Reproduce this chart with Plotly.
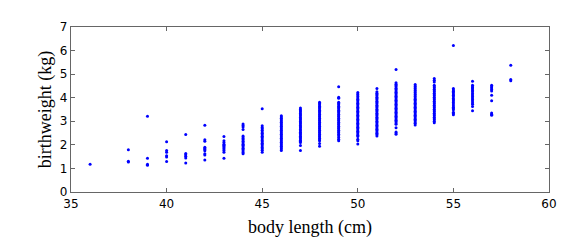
import plotly.graph_objects as go

# body length (cm) columns and birthweights (kg)
lengths = [36, 38, 39, 40, 41, 42, 43, 44, 45, 46, 47, 48, 49, 50, 51, 52, 53, 54, 55, 56, 57, 58]

w36 = [1.18]
w38 = [1.79, 1.30, 1.27]
w39 = [3.21, 1.43, 1.18, 1.13]
w40 = [2.13, 1.76, 1.69, 1.54, 1.48, 1.29]
w41 = [2.44, 1.63, 1.58, 1.52, 1.44, 1.23]
w42 = [2.83, 2.22, 2.15, 1.90, 1.85, 1.80, 1.75, 1.62, 1.57, 1.36]
w43 = [2.35, 2.17, 2.10, 2.03, 1.98, 1.93, 1.88, 1.82, 1.76, 1.69, 1.43]
w44 = [2.89, 2.82, 2.76, 2.65, 2.38, 2.33, 2.27, 2.22, 2.15, 2.09, 2.03, 1.98, 1.92,
       1.86, 1.80, 1.74, 1.68, 1.62]
w45 = [3.53, 2.81, 2.74, 2.68, 2.62, 2.55, 2.49, 2.43, 2.37, 2.31, 2.25, 2.19, 2.13,
       2.07, 2.01, 1.95, 1.89, 1.83, 1.77, 1.69]
w46 = [3.24, 3.18, 3.13, 3.07, 3.01, 2.96, 2.90, 2.84, 2.79, 2.73, 2.67, 2.62, 2.56,
       2.50, 2.45, 2.39, 2.33, 2.28, 2.22, 2.16, 2.11, 2.05, 1.99, 1.94, 1.88, 1.82, 1.76]
w47 = [3.56, 3.50, 3.45, 3.39, 3.33, 3.28, 3.22, 3.16, 3.11, 3.05, 2.99, 2.94, 2.88,
       2.82, 2.77, 2.71, 2.65, 2.60, 2.54, 2.48, 2.43, 2.37, 2.31, 2.26, 2.20, 2.15,
       2.10, 1.97, 1.76]
w48 = [3.81, 3.75, 3.70, 3.64, 3.58, 3.53, 3.47, 3.41, 3.36, 3.30, 3.24, 3.19, 3.13,
       3.07, 3.02, 2.96, 2.90, 2.85, 2.79, 2.73, 2.68, 2.62, 2.56, 2.51, 2.45, 2.39,
       2.34, 2.28, 2.22, 2.17, 2.06, 1.94]
w49 = [4.46, 4.02, 3.98, 3.81, 3.75, 3.70, 3.64, 3.58, 3.53, 3.47, 3.41, 3.36, 3.30,
       3.24, 3.19, 3.13, 3.07, 3.02, 2.96, 2.90, 2.85, 2.79, 2.73, 2.68, 2.62, 2.56,
       2.51, 2.45, 2.39, 2.31, 2.24, 2.17]
w50 = [4.22, 4.16, 4.11, 4.05, 3.99, 3.94, 3.88, 3.82, 3.77, 3.71, 3.65, 3.60, 3.54,
       3.48, 3.43, 3.37, 3.31, 3.26, 3.20, 3.14, 3.09, 3.03, 2.97, 2.92, 2.86, 2.80,
       2.75, 2.69, 2.63, 2.58, 2.52, 2.46, 2.41, 2.35, 2.24, 2.17, 2.04]
w51 = [4.39, 4.25, 4.19, 4.14, 4.08, 4.02, 3.97, 3.91, 3.85, 3.80, 3.74, 3.68, 3.63,
       3.57, 3.51, 3.46, 3.40, 3.34, 3.29, 3.23, 3.17, 3.12, 3.06, 3.00, 2.95, 2.89,
       2.83, 2.78, 2.72, 2.66, 2.61, 2.55, 2.49, 2.44, 2.38]
w52 = [5.20, 4.63, 4.57, 4.52, 4.46, 4.40, 4.35, 4.29, 4.23, 4.18, 4.12, 4.06, 4.01,
       3.95, 3.89, 3.84, 3.78, 3.72, 3.67, 3.61, 3.55, 3.50, 3.44, 3.38, 3.33, 3.27,
       3.21, 3.16, 3.10, 3.04, 2.99, 2.93, 2.87, 2.73, 2.55, 2.50, 2.45]
w53 = [4.56, 4.50, 4.45, 4.39, 4.33, 4.28, 4.22, 4.16, 4.11, 4.05, 3.99, 3.94, 3.88,
       3.82, 3.77, 3.71, 3.65, 3.60, 3.54, 3.48, 3.43, 3.37, 3.31, 3.26, 3.20, 3.14,
       3.09, 3.03, 2.97, 2.92, 2.84]
w54 = [4.81, 4.74, 4.67, 4.53, 4.47, 4.42, 4.36, 4.30, 4.25, 4.19, 4.13, 4.08, 4.02,
       3.96, 3.91, 3.85, 3.79, 3.74, 3.68, 3.62, 3.57, 3.51, 3.45, 3.40, 3.34, 3.28,
       3.23, 3.17, 3.11, 3.06, 3.00, 2.94]
w55 = [6.22, 4.39, 4.33, 4.27, 4.22, 4.16, 4.10, 4.04, 3.97, 3.91, 3.86, 3.80, 3.73,
       3.66, 3.60, 3.54, 3.49, 3.38, 3.33, 3.28]
w56 = [4.70, 4.53, 4.47, 4.42, 4.37, 4.31, 4.25, 4.18, 4.12, 4.05, 3.99, 3.92, 3.86,
       3.79, 3.72, 3.63, 3.45]
w57 = [4.53, 4.47, 4.41, 4.35, 4.28, 4.10, 3.87, 3.35, 3.30, 3.26]
w58 = [5.38, 4.77, 4.72]

weights = [w36, w38, w39, w40, w41, w42, w43, w44, w45, w46, w47, w48, w49, w50,
           w51, w52, w53, w54, w55, w56, w57, w58]

x_ticks = [35, 40, 45, 50, 55, 60]
y_ticks = [0, 1, 2, 3, 4, 5, 6, 7]

xs, ys = [], []
for L, ws in zip(lengths, weights):
    for w in ws:
        xs.append(L)
        ys.append(w)

fig = go.Figure(go.Scatter(
    x=xs, y=ys, mode="markers",
    marker=dict(color="#0000ff", size=3.0, line=dict(width=0)),
))

frame = "#666666"
axis_common = dict(
    showgrid=False, zeroline=False, showline=True, linecolor=frame, linewidth=1.3,
    mirror="ticks", ticks="inside", ticklen=4, tickwidth=1, tickcolor=frame,
    tickfont=dict(family="DejaVu Sans", size=12, color="black"),
)

# page body has an 8px default margin, so the figure margins compensate for it
fig.update_layout(
    width=586, height=241,
    margin=dict(l=63, r=45, t=16, b=57),
    paper_bgcolor="white", plot_bgcolor="white",
    showlegend=False,
    xaxis=dict(range=[35, 60], tickvals=x_ticks, ticktext=[str(v) for v in x_ticks],
               title=dict(text="body length (cm)", standoff=10,
                          font=dict(family="Liberation Serif", size=18, color="black")),
               **axis_common),
    yaxis=dict(range=[0, 7], tickvals=y_ticks, ticktext=[str(v) for v in y_ticks],
               title=dict(text="birthweight (kg)", standoff=3,
                          font=dict(family="Liberation Serif", size=18, color="black")),
               **axis_common),
)

fig.write_html("out.html")
